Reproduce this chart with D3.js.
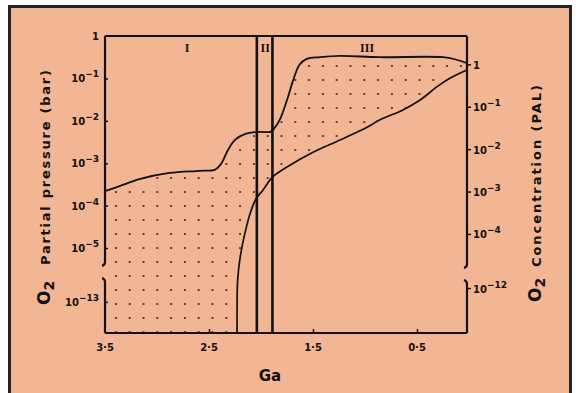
<!DOCTYPE html>
<html>
<head>
<meta charset="utf-8">
<script src="https://cdn.jsdelivr.net/npm/d3@7"></script>
<style>
body { margin: 0; background: #fff; }
svg text { font-family: "DejaVu Sans", sans-serif; font-weight: bold; fill: #111; }
</style>
</head>
<body>
<svg id="svg" width="576" height="393"></svg>
<script>
var w = 576, h = 393

// upper curve: [Ga, log10 pO2 (bar)]
var upperCurve = [
    [3.5, -3.66], [3.36, -3.54], [3.16, -3.37], [2.88, -3.23], [2.59, -3.18],
    [2.44, -3.15], [2.38, -3.0], [2.32, -2.7], [2.25, -2.45], [2.15, -2.31],
    [2.01, -2.26], [1.91, -2.26], [1.87, -2.17], [1.82, -1.98], [1.75, -1.51],
    [1.69, -1.04], [1.63, -0.68], [1.56, -0.54], [1.43, -0.50], [1.24, -0.47],
    [0.86, -0.50], [0.25, -0.50], [0.12, -0.56], [0.02, -0.64]
]
// lower curve (starts at the bottom of the broken axis)
var lowerCurve = [
    [2.23, -13.75], [2.23, -13.2], [2.225, -12.5], [2.20, -5.21], [2.15, -4.6],
    [2.10, -4.15], [2.05, -3.85], [1.98, -3.63], [1.89, -3.33], [1.75, -3.09],
    [1.50, -2.74], [1.24, -2.45], [0.98, -2.15], [0.86, -1.98], [0.64, -1.75],
    [0.47, -1.51], [0.31, -1.20], [0.18, -0.99], [0.02, -0.80]
]
var stageBounds = [2.04, 1.89]
var stageLabels = [["I", 2.71], ["II", 1.96], ["III", 0.98]]

var xTicks = [2.5, 1.5, 0.5]
var xTickLabels = ["3·5", "2·5", "1·5", "0·5"]
var xLabelValues = [3.5, 2.5, 1.5, 0.5]
var leftTicks = [0, -1, -2, -3, -4, -5, -13]
var rightTicks = [0, -1, -2, -3, -4, -12]
var palOffset = 0.68   // 1 PAL = 0.21 bar

var x = d3.scaleLinear().domain([3.5, 0]).range([105, 469])
// broken log axis: upper part 1 .. 10^-5.4, lower part 10^-12.45 .. 10^-13.75
var y = d3.scaleLinear().domain([0, -5.4, -12.45, -13.75]).range([36, 265, 279, 333])
function yR(v) { return y(v - palOffset) }

function init()
{
    var svg = d3.select("#svg")

    // page background and frame
    svg.append("rect")
        .attr("x", 9.5).attr("y", 6.5)
        .attr("width", 561).attr("height", 400)
        .attr("fill", "#F3B695")
        .attr("stroke", "#222")
        .attr("stroke-width", 3)

    // dot pattern
    var pat = svg.append("defs").append("pattern")
        .attr("id", "dots")
        .attr("patternUnits", "userSpaceOnUse")
        .attr("x", 109).attr("y", 185)
        .attr("width", 13.8).attr("height", 14)
    pat.append("circle")
        .attr("cx", 6.9).attr("cy", 7).attr("r", 1.1)
        .attr("fill", "#4a2418")

    var line = d3.line()
        .x(function(d){ return x(d[0]) })
        .y(function(d){ return y(d[1]) })
        .curve(d3.curveCatmullRom.alpha(0.5))

    // shaded region between the two curves
    var back = line(lowerCurve.slice().reverse()).replace(/^M/, "L")
    svg.append("path")
        .attr("d", line(upperCurve) + back + "L" + x(3.5) + "," + y(-13.75) + "Z")
        .attr("fill", "url(#dots)")
        .attr("stroke", "none")

    drawAxes(svg)

    svg.append("path")
        .attr("d", line(upperCurve))
        .attr("fill", "none").attr("stroke", "#111").attr("stroke-width", 1.8)
    svg.append("path")
        .attr("d", line(lowerCurve))
        .attr("fill", "none").attr("stroke", "#111").attr("stroke-width", 1.7)

    // stage boundaries
    svg.selectAll(".stage")
        .data(stageBounds)
        .enter().append("line")
        .attr("x1", function(d){ return x(d) }).attr("x2", function(d){ return x(d) })
        .attr("y1", y(0)).attr("y2", y(-13.75))
        .attr("stroke", "#111").attr("stroke-width", 2.6)

    svg.selectAll(".stagelab")
        .data(stageLabels)
        .enter().append("text")
        .attr("x", function(d){ return x(d[1]) })
        .attr("y", 52)
        .attr("text-anchor", "middle")
        .style("font-family", "'Liberation Serif', serif")
        .style("font-size", "12px")
        .text(function(d){ return d[0] })
}

function drawAxes(svg)
{
    var xl = x(3.5), xr = 467, top = y(0), bot = y(-13.75)
    var frame = svg.append("g")
        .attr("fill", "none").attr("stroke", "#111").attr("stroke-width", 2.2)

    frame.append("line").attr("x1", xl).attr("x2", xr).attr("y1", top).attr("y2", top)
    frame.append("line").attr("x1", xl).attr("x2", xr).attr("y1", bot).attr("y2", bot)
    // left axis with break hooks
    frame.append("path").attr("d", "M" + xl + "," + top + "V" + (y(-5.4) - 3) + "q0,3 -3,4")
    frame.append("path").attr("d", "M" + xl + "," + bot + "V" + (y(-12.45) + 3) + "q0,-3 -3,-4")
    // right axis with break hooks
    frame.append("path").attr("d", "M" + xr + "," + top + "V" + (y(-5.4) - 1) + "q0,3 -3,4")
    frame.append("path").attr("d", "M" + xr + "," + bot + "V" + (y(-12.45) + 5) + "q0,-3 -3,-4")

    // ticks
    svg.append("g")
        .attr("transform", "translate(" + xl + ",0)")
        .call(d3.axisLeft(y).tickValues(leftTicks.slice(1)).tickSize(-3).tickFormat(""))
        .call(function(g){ g.select(".domain").remove() })
        .selectAll("line").attr("stroke", "#111").attr("stroke-width", 1.5)
    svg.selectAll(".rtick")
        .data(rightTicks)
        .enter().append("line")
        .attr("x1", xr).attr("x2", xr + 4)
        .attr("y1", function(d){ return yR(d) }).attr("y2", function(d){ return yR(d) })
        .attr("stroke", "#111").attr("stroke-width", 1.5)
    svg.append("g")
        .attr("transform", "translate(0," + bot + ")")
        .call(d3.axisBottom(x).tickValues(xTicks).tickSize(-4).tickFormat(""))
        .call(function(g){ g.select(".domain").remove() })
        .selectAll("line").attr("stroke", "#111").attr("stroke-width", 1.5)

    // tick labels
    svg.selectAll(".ltl")
        .data(leftTicks)
        .enter().append("text")
        .attr("x", 99)
        .attr("y", function(d){ return y(d) + 4 })
        .attr("text-anchor", "end")
        .style("font-size", "10px")
        .each(function(d){ powerLabel(d3.select(this), d) })
    svg.selectAll(".rtl")
        .data(rightTicks)
        .enter().append("text")
        .attr("x", 473)
        .attr("y", function(d){ return yR(d) + 4 })
        .style("font-size", "10px")
        .each(function(d){ powerLabel(d3.select(this), d) })

    svg.selectAll(".xtl")
        .data(xLabelValues)
        .enter().append("text")
        .attr("x", function(d){ return x(d) })
        .attr("y", 351)
        .attr("text-anchor", "middle")
        .style("font-size", "10px")
        .text(function(d, i){ return xTickLabels[i] })

    // axis titles
    svg.append("text")
        .attr("x", 270).attr("y", 381)
        .attr("text-anchor", "middle")
        .style("font-size", "15px")
        .text("Ga")

    var lt = svg.append("g").attr("transform", "translate(50,305) rotate(-90)")
    lt.append("text").style("font-size", "17px")
        .html("O<tspan dy='4' font-size='14px'>2</tspan>")
    lt.append("text").attr("x", 40).style("font-size", "13px")
        .attr("textLength", 195).attr("lengthAdjust", "spacing")
        .text("Partial pressure (bar)")

    var rt = svg.append("g").attr("transform", "translate(541,302) rotate(-90)")
    rt.append("text").style("font-size", "17px")
        .html("O<tspan dy='4' font-size='14px'>2</tspan>")
    rt.append("text").attr("x", 35).style("font-size", "13px")
        .attr("textLength", 182).attr("lengthAdjust", "spacing")
        .text("Concentration (PAL)")
}

function powerLabel(t, d)
{
    if (d == 0) { t.text("1"); return }
    t.append("tspan").text("10")
    t.append("tspan").attr("dy", -5).style("font-size", "9px").text("\u2212" + (-d))
}

init()
</script>
</body>
</html>
